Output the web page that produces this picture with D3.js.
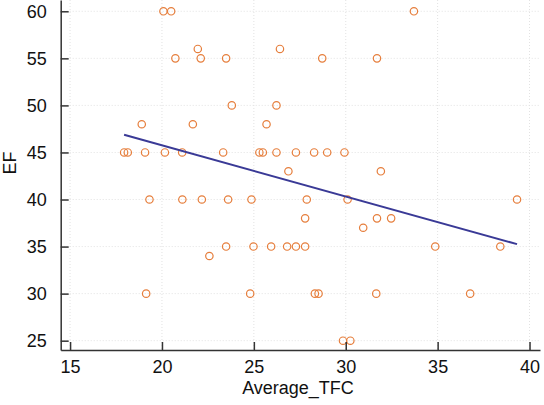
<!DOCTYPE html>
<html><head><meta charset="utf-8">
<script src="https://cdn.jsdelivr.net/npm/d3@7"></script>
<style>body{margin:0;background:#fff}svg{display:block}text{font-family:"Liberation Sans",Arial,sans-serif}</style>
</head><body>
<script>
const tfc = [20.08,20.5,33.71, 21.95,26.42, 20.73,22.11,23.49,28.72,31.7, 23.8,26.23, 18.9,21.68,25.69,
  17.94,18.14,19.08,20.16,21.1,23.33,25.3,25.49,26.23,27.29,28.28,28.99,29.93,
  26.88,31.91, 19.32,21.11,22.17,23.6,24.87,27.88,30.1,39.32, 27.79,31.7,32.47, 30.95,
  23.49,24.98,25.94,26.81,27.29,27.79,34.87,38.41, 22.58, 19.14,24.8,28.32,28.52,31.66,36.77, 29.85,30.25];
const ef = [60,60,60, 56,56, 55,55,55,55,55, 50,50, 48,48,48,
  45,45,45,45,45,45,45,45,45,45,45,45,45,
  43,43, 40,40,40,40,40,40,40,40, 38,38,38, 37,
  35,35,35,35,35,35,35,35, 34, 30,30,30,30,30,30, 25,25];
const fitX = [17.94, 39.32];
const fitY = [46.88, 35.26];
const xTicks = [15,20,25,30,35,40];
const yTicks = [25,30,35,40,45,50,55,60];

const W=544,H=405;
const svg=d3.select("body").append("svg").attr("width",W).attr("height",H);
svg.append("rect").attr("width",W).attr("height",H).attr("fill","#fff");
const x=d3.scaleLinear().domain([14.49,40.57]).range([60.7,540]);
const y=d3.scaleLinear().domain([24.01,61.2]).range([350,0]);

// grid
const g=svg.append("g");
g.selectAll("line.gx").data(xTicks).join("line").attr("class","gx")
  .attr("x1",d=>x(d)).attr("x2",d=>x(d)).attr("y1",0).attr("y2",350)
  .attr("stroke","#e2e2e2").attr("stroke-dasharray","1,2");
g.selectAll("line.gy").data(yTicks).join("line").attr("class","gy")
  .attr("y1",d=>y(d)).attr("y2",d=>y(d)).attr("x1",60.7).attr("x2",540)
  .attr("stroke","#e2e2e2").attr("stroke-dasharray","1,2");

// points
svg.append("g").selectAll("circle").data(tfc.map((v,i)=>[v,ef[i]])).join("circle")
  .attr("cx",d=>x(d[0])).attr("cy",d=>y(d[1])).attr("r",3.7)
  .attr("fill","none").attr("stroke","#E67E3C").attr("stroke-width",1.2);

// fit line
svg.append("path").datum(fitX.map((v,i)=>[v,fitY[i]]))
  .attr("d",d3.line().x(d=>x(d[0])).y(d=>y(d[1])))
  .attr("stroke","#3a3a96").attr("stroke-width",2).attr("fill","none");

// axes
const ax=svg.append("g").attr("transform","translate(0,350)")
  .call(d3.axisBottom(x).tickValues(xTicks).tickSizeInner(-8).tickSizeOuter(0).tickPadding(10));
const ay=svg.append("g").attr("transform","translate(60.7,0)")
  .call(d3.axisLeft(y).tickValues(yTicks).tickSizeInner(-8).tickSizeOuter(0).tickPadding(14));
[ax,ay].forEach(a=>{
  a.selectAll("path.domain").attr("stroke","#333").attr("stroke-width",1.5);
  a.selectAll(".tick line").attr("stroke","#333").attr("stroke-width",1.5);
  a.selectAll("text").attr("font-size",18).attr("fill","#111").attr("font-family","Liberation Sans, Arial, sans-serif");
});

svg.append("text").attr("x",298).attr("y",394).attr("text-anchor","middle")
  .attr("font-size",18).attr("fill","#111").text("Average_TFC");
svg.append("text").attr("transform","translate(16,163) rotate(-90)").attr("text-anchor","middle")
  .attr("font-size",18).attr("fill","#111").text("EF");
</script>
</body></html>
